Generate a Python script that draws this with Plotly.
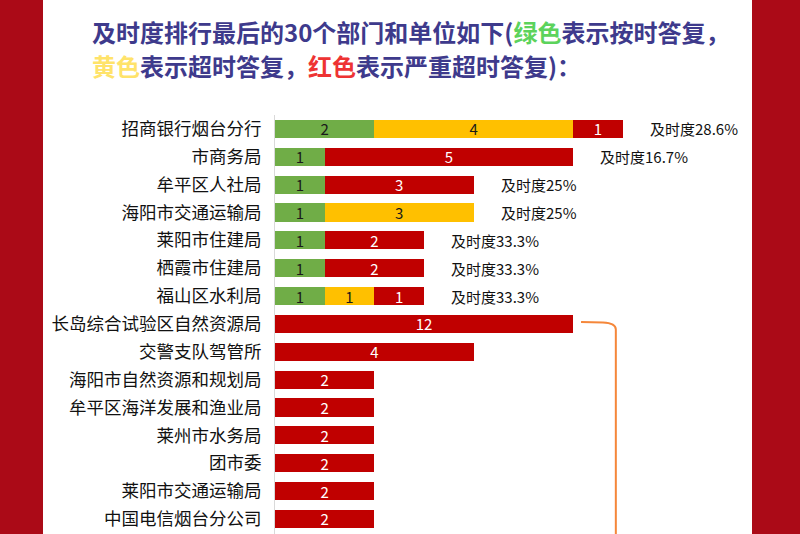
import plotly.graph_objects as go

# ---------------- data ----------------
categories = [
    "招商银行烟台分行", "市商务局", "牟平区人社局", "海阳市交通运输局",
    "莱阳市住建局", "栖霞市住建局", "福山区水利局", "长岛综合试验区自然资源局",
    "交警支队驾管所", "海阳市自然资源和规划局", "牟平区海洋发展和渔业局",
    "莱州市水务局", "团市委", "莱阳市交通运输局", "中国电信烟台分公司",
]
on_time = [2, 1, 1, 1, 1, 1, 1, 0, 0, 0, 0, 0, 0, 0, 0]      # green
overdue = [4, 0, 0, 3, 0, 0, 1, 0, 0, 0, 0, 0, 0, 0, 0]      # yellow
severe = [1, 5, 3, 0, 2, 2, 1, 12, 4, 2, 2, 2, 2, 2, 2]      # red
ratio_labels = ["及时度28.6%", "及时度16.7%", "及时度25%", "及时度25%",
                "及时度33.3%", "及时度33.3%", "及时度33.3%"]
DISPLAY_CAP = 6  # the long red bar is drawn truncated in the original

title_line1 = ('<b>及时度排行最后的30个部门和单位如下(<span style="color:#5CD35C">绿色</span>'
               '表示按时答复，</b>')
title_line2 = ('<b><span style="color:#FFE36A">黄色</span>表示超时答复，'
               '<span style="color:#EE3333">红色</span>表示严重超时答复)：</b>')

# ---------------- styling ----------------
W, H = 800, 534
GREEN, YELLOW, RED = "#70AD47", "#FFC000", "#C00000"
TITLE_COLOR = "#3E3A8C"
BORDER_RED = "#AB0A17"
FONT = "Noto Sans CJK SC"

n = len(categories)
ypos = list(range(n))
severe_disp = [min(v, DISPLAY_CAP) for v in severe]


def nz(vals):
    return [v if v else None for v in vals]


def txt(vals):
    return [str(v) if v else "" for v in vals]


fig = go.Figure()
for vals, disp, color, tcolor in [
    (on_time, on_time, GREEN, "#1A1A1A"),
    (overdue, overdue, YELLOW, "#1A1A1A"),
    (severe, severe_disp, RED, "#FFFFFF"),
]:
    fig.add_trace(go.Bar(
        y=ypos, x=nz(disp), orientation="h", marker=dict(color=color, line=dict(width=0)),
        width=0.65, text=txt(vals), textposition="inside", insidetextanchor="middle",
        textangle=0, constraintext="none",
        insidetextfont=dict(color=tcolor, size=15, family=FONT),
        hoverinfo="skip", showlegend=False,
    ))

annotations = []
for i, lab in enumerate(ratio_labels):
    total = on_time[i] + overdue[i] + severe_disp[i]
    annotations.append(dict(
        x=total, y=i, xref="x", yref="y", text=lab, showarrow=False,
        xanchor="left", yanchor="middle", xshift=25,
        font=dict(size=15, color="#111111", family=FONT),
    ))

annotations += [
    dict(x=90 / W, y=1 - 31 / H, xref="paper", yref="paper", text=title_line1,
         showarrow=False, xanchor="left", yanchor="middle",
         font=dict(size=24, color=TITLE_COLOR, family=FONT)),
    dict(x=90 / W, y=1 - 66 / H, xref="paper", yref="paper", text=title_line2,
         showarrow=False, xanchor="left", yanchor="middle",
         font=dict(size=24, color=TITLE_COLOR, family=FONT)),
]

shapes = [
    dict(type="rect", xref="paper", yref="paper", x0=0, x1=43 / W, y0=0, y1=1,
         fillcolor=BORDER_RED, line=dict(width=0), layer="below"),
    dict(type="rect", xref="paper", yref="paper", x0=752 / W, x1=1, y0=0, y1=1,
         fillcolor=BORDER_RED, line=dict(width=0), layer="below"),
    dict(type="path", xref="x", yref="y",
         path="M 6.16,6.93 L 6.6,6.95 Q 6.86,6.97 6.86,7.2 L 6.86,15",
         line=dict(color="#F5873A", width=2)),
]

fig.update_layout(
    width=W, height=H, margin=dict(l=0, r=0, t=0, b=0),
    paper_bgcolor="white", plot_bgcolor="white",
    barmode="stack", bargap=0.35,
    font=dict(family=FONT, color="#111111"),
    xaxis=dict(domain=[275 / W, 747 / W], range=[0, 9.5], showgrid=False,
               zeroline=False, showticklabels=False, showline=False, fixedrange=True),
    yaxis=dict(domain=[0, 1 - 115 / H], range=[14.54, -0.5], tickmode="array",
               tickvals=ypos, ticktext=categories, showgrid=False, zeroline=False,
               showline=True, linecolor="#D9D9D9", linewidth=1, ticks="",
               ticklabelstandoff=9, automargin=False,
               tickfont=dict(size=17.5, color="#111111", family=FONT), fixedrange=True),
    annotations=annotations, shapes=shapes,
)

fig.write_html("out.html")
